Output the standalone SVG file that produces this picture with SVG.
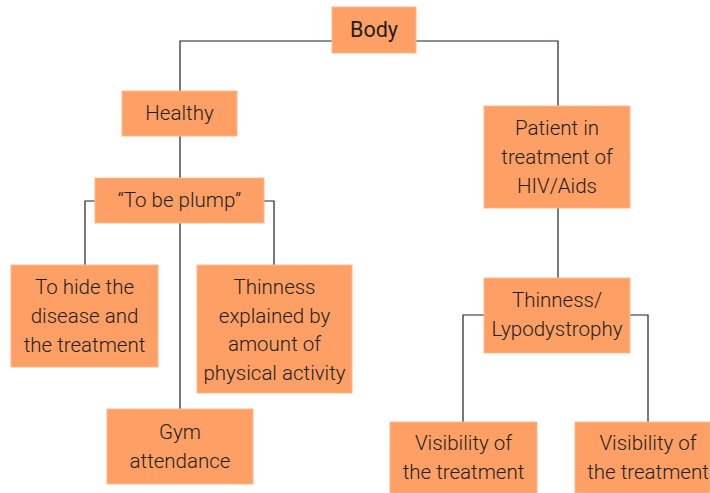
<svg xmlns="http://www.w3.org/2000/svg" width="710" height="493" viewBox="0 0 710 493">
<style>
.box{fill:#fe9f65;stroke:#fdb98c;stroke-width:1}
.t{font-family:"Roboto","Liberation Sans",sans-serif;font-weight:300;font-size:20.5px;fill:#231f20;text-anchor:middle}
.b{font-weight:400;font-size:21.5px}
.c{fill:none;stroke:#231f20;stroke-width:1.2}
</style>
<rect width="710" height="493" fill="#fff"/>
<g id="connectors">
<path class="c" d="M332,41H180V91M416,41H558V106"/>
<path class="c" d="M180,136V178M180,223V409"/>
<path class="c" d="M95,201H85V265M264,201H274V265"/>
<path class="c" d="M558,208V278"/>
<path class="c" d="M484,315H463V422M630,315H648V422"/>
</g>
<g id="body"><rect class="box" x="332" y="7" width="84" height="46"/><text class="t b" x="374" y="37">Body</text></g>
<g id="healthy"><rect class="box" x="122" y="91" width="115" height="45"/><text class="t" x="179.5" y="120">Healthy</text></g>
<g id="plump"><rect class="box" x="95" y="178" width="169" height="45"/><text class="t" x="179.5" y="207">“To be plump”</text></g>
<g id="hide"><rect class="box" x="11" y="265" width="147" height="102"/><text class="t" x="84.5" y="294">To hide the</text><text class="t" x="84.5" y="323">disease and</text><text class="t" x="84.5" y="352">the treatment</text></g>
<g id="thinness-explained"><rect class="box" x="197" y="265" width="155" height="128"/><text class="t" x="274.5" y="294">Thinness</text><text class="t" x="274.5" y="323">explained by</text><text class="t" x="274.5" y="351">amount of</text><text class="t" x="274.5" y="380">physical activity</text></g>
<g id="gym"><rect class="box" x="107" y="409" width="146" height="75"/><text class="t" x="180" y="439">Gym</text><text class="t" x="180" y="468">attendance</text></g>
<g id="patient"><rect class="box" x="484" y="106" width="146" height="102"/><text class="t" x="557" y="135">Patient in</text><text class="t" x="557" y="164">treatment of</text><text class="t" x="557" y="193">HIV/Aids</text></g>
<g id="lypodystrophy"><rect class="box" x="484" y="278" width="146" height="75"/><text class="t" x="557" y="307">Thinness/</text><text class="t" x="557" y="336">Lypodystrophy</text></g>
<g id="visibility1"><rect class="box" x="390" y="422" width="147" height="71"/><text class="t" x="463.5" y="450">Visibility of</text><text class="t" x="463.5" y="479">the treatment</text></g>
<g id="visibility2"><rect class="box" x="575" y="422" width="135" height="71"/><text class="t" x="648" y="450">Visibility of</text><text class="t" x="648" y="479">the treatment</text></g>
</svg>
